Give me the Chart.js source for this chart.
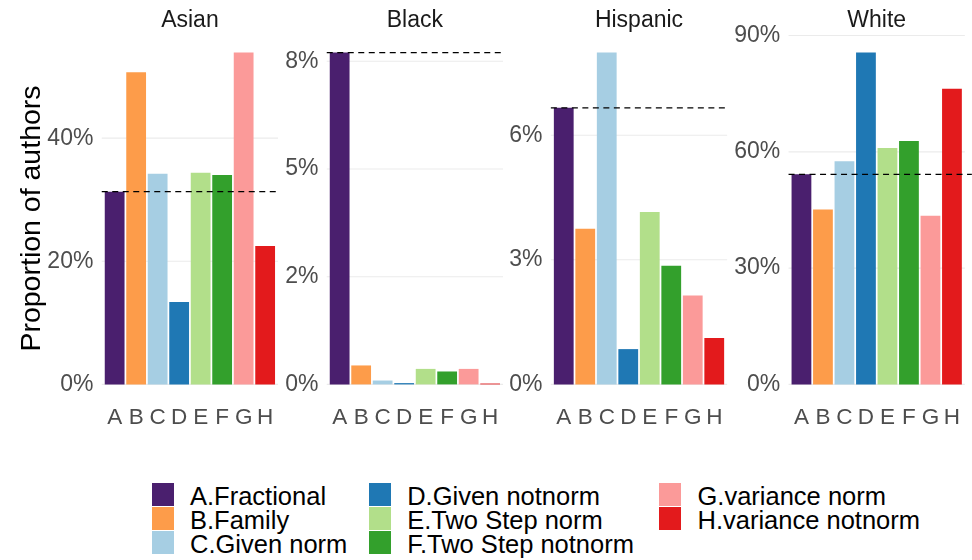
<!DOCTYPE html>
<html>
<head>
<meta charset="utf-8">
<script src="https://cdn.jsdelivr.net/npm/chart.js@4.4.1/dist/chart.umd.min.js"></script>
<style>
  body { margin: 0; background: #fff; width: 972px; height: 560px; position: relative; overflow: hidden;
         font-family: "Liberation Sans", Arial, sans-serif; }
  .panel { position: absolute; top: 0; }
  .legend-col { position: absolute; top: 482.5px; }
  .legend-row { position: relative; height: 24px; }
  .legend-row .sw { position: absolute; left: 0; top: 0; width: 22px; height: 23px; }
  .legend-row .lb { position: absolute; left: 38.5px; top: 1.5px; font-size: 25.5px; line-height: 24px;
                    color: #000; white-space: nowrap; }
</style>
</head>
<body>
<canvas id="p0" class="panel"></canvas>
<canvas id="p1" class="panel"></canvas>
<canvas id="p2" class="panel"></canvas>
<canvas id="p3" class="panel"></canvas>
<div id="legend"></div>
<script>
const categories = ["A", "B", "C", "D", "E", "F", "G", "H"]
const methodNames = ["A.Fractional", "B.Family", "C.Given norm", "D.Given notnorm",
                     "E.Two Step norm", "F.Two Step notnorm", "G.variance norm", "H.variance notnorm"]
const methodColors = ["#4a1f6e", "#fd9c4a", "#a6cee3", "#1f78b4", "#b2df8a", "#33a02c", "#fb9a99", "#e31a1c"]

const groups = ["Asian", "Black", "Hispanic", "White"]
// proportion of authors, in %
const asianValues = [31.3, 50.7, 34.2, 13.4, 34.4, 34.0, 53.9, 22.5]
const blackValues = [7.70, 0.44, 0.09, 0.03, 0.36, 0.30, 0.36, 0.02]
const hispanicValues = [6.66, 3.75, 7.99, 0.85, 4.15, 2.86, 2.14, 1.12]
const whiteValues = [54.2, 45.1, 57.6, 85.6, 61.0, 62.8, 43.5, 76.3]
// dashed reference line per group
const referenceValues = [31.3, 7.70, 6.66, 54.2]

const asianTicks = [0, 20, 40]
const asianTickLabels = ["0%", "20%", "40%"]
const blackTicks = [0, 2.5, 5, 7.5]
const blackTickLabels = ["0%", "2%", "5%", "8%"]
const hispanicTicks = [0, 3, 6]
const hispanicTickLabels = ["0%", "3%", "6%"]
const whiteTicks = [0, 30, 60, 90]
const whiteTickLabels = ["0%", "30%", "60%", "90%"]

const panels = [
    { values : asianValues, ticks : asianTicks, labels : asianTickLabels, left : 0, width : 280, axisWidth : 103.9, yTitle : true },
    { values : blackValues, ticks : blackTicks, labels : blackTickLabels, left : 280, width : 225, axisWidth : 48.9 },
    { values : hispanicValues, ticks : hispanicTicks, labels : hispanicTickLabels, left : 505, width : 224, axisWidth : 48 },
    { values : whiteValues, ticks : whiteTicks, labels : whiteTickLabels, left : 729, width : 243, axisWidth : 61.7 },
]

const panelDecor = {
    id : "panelDecor",
    beforeDatasetsDraw(chart, args, opts) {
        const {ctx, chartArea : a, scales : {x, y}} = chart
        const ext = x.width / categories.length * 0.1
        ctx.save()
        ctx.strokeStyle = "#ebebeb"
        ctx.lineWidth = 1.1
        y.ticks.forEach(t => {
            const py = y.getPixelForValue(t.value)
            ctx.beginPath()
            ctx.moveTo(a.left - ext, py)
            ctx.lineTo(a.right + ext, py)
            ctx.stroke()
        })
        ctx.restore()
    },
    afterDatasetsDraw(chart, args, opts) {
        const {ctx, chartArea : a, scales : {x, y}} = chart
        const ext = x.width / categories.length * 0.1
        const py = y.getPixelForValue(opts.ref)
        ctx.save()
        ctx.strokeStyle = "#000"
        ctx.lineWidth = 1.3
        ctx.setLineDash([6, 4.5])
        ctx.beginPath()
        ctx.moveTo(a.left - ext, py)
        ctx.lineTo(a.right + ext + opts.extraRight, py)
        ctx.stroke()
        ctx.restore()
    },
    afterDraw(chart, args, opts) {
        const {ctx, chartArea : a} = chart
        ctx.save()
        ctx.fillStyle = "#1a1a1a"
        ctx.font = "23px 'Liberation Sans', Arial, sans-serif"
        ctx.textAlign = "center"
        ctx.textBaseline = "middle"
        ctx.fillText(opts.title, (a.left + a.right) / 2, 21)
        ctx.restore()
    },
}

panels.forEach((p, i) => {
    const canvas = document.getElementById("p" + i)
    canvas.width = p.width
    canvas.height = 440
    canvas.style.left = p.left + "px"
    const maxVal = Math.max(...p.values)
    new Chart(canvas.getContext("2d"), {
        type : "bar",
        data : {
            labels : categories,
            datasets : [{
                data : p.values,
                backgroundColor : methodColors,
                borderWidth : 0,
                barPercentage : 0.92,
                categoryPercentage : 1,
            }],
        },
        options : {
            responsive : false,
            animation : false,
            layout : { padding : { top : 36, right : p.width - p.axisWidth - 172, left : 0, bottom : 0 } },
            scales : {
                x : {
                    grid : { display : false, drawTicks : false },
                    border : { display : false },
                    ticks : { color : "#4d4d4d", font : { size : 22.5, family : "'Liberation Sans', Arial" }, padding : 3.5, maxRotation : 0 },
                    afterFit : s => { s.height = 39 },
                },
                y : {
                    min : -0.05 * maxVal,
                    max : 1.05 * maxVal,
                    grid : { display : false, drawTicks : false },
                    border : { display : false },
                    afterBuildTicks : s => { s.ticks = p.ticks.map(v => ({ value : v })) },
                    ticks : {
                        color : "#4d4d4d",
                        font : { size : 23, family : "'Liberation Sans', Arial" },
                        padding : 10.5,
                        callback : (v, idx) => p.labels[idx],
                    },
                    title : {
                        display : !!p.yTitle,
                        text : "Proportion of authors",
                        color : "#000",
                        font : { size : 28.5, family : "'Liberation Sans', Arial" },
                        padding : { top : 15, bottom : 0 },
                    },
                    afterFit : s => { s.width = p.axisWidth },
                },
            },
            plugins : {
                legend : { display : false },
                tooltip : { enabled : false },
                panelDecor : { ref : referenceValues[i], title : groups[i], extraRight : i === 3 ? 7 : 0 },
            },
        },
        plugins : [panelDecor],
    })
})

// legend, three columns filled top to bottom
const legendCols = [[0, 1, 2], [3, 4, 5], [6, 7]]
const legendLefts = [151.5, 368.7, 659]
const legend = document.getElementById("legend")
legendCols.forEach((col, c) => {
    const div = document.createElement("div")
    div.className = "legend-col"
    div.style.left = legendLefts[c] + "px"
    col.forEach(k => {
        const row = document.createElement("div")
        row.className = "legend-row"
        const sw = document.createElement("span")
        sw.className = "sw"
        sw.style.background = methodColors[k]
        const lb = document.createElement("span")
        lb.className = "lb"
        lb.textContent = methodNames[k]
        row.appendChild(sw)
        row.appendChild(lb)
        div.appendChild(row)
    })
    legend.appendChild(div)
})
</script>
</body>
</html>
